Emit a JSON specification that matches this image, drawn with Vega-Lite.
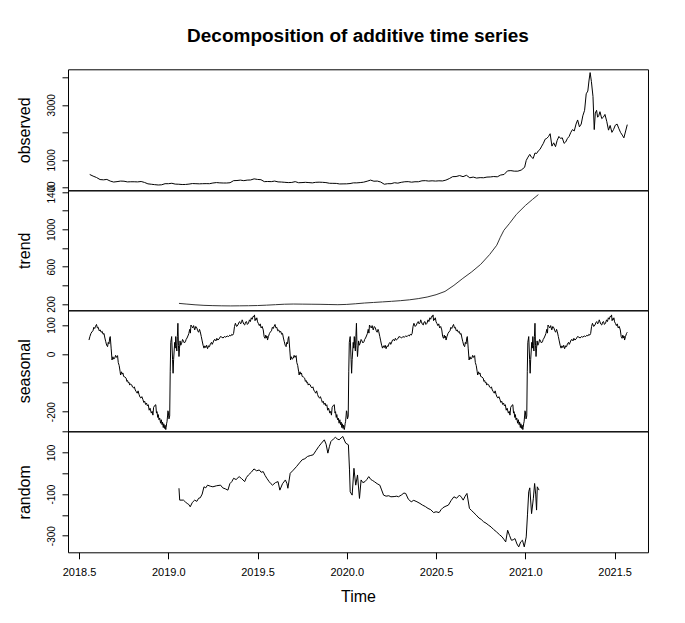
{
"$schema": "https://vega.github.io/schema/vega-lite/v6.json",
"background": "white",
"padding": {"left": 16, "top": 25.3, "right": 5, "bottom": 5},
"bounds": "flush",
"config": {
  "font": "Liberation Sans",
  "view": {"stroke": "black", "strokeWidth": 1},
  "axis": {"grid": false, "domain": false, "tickColor": "black", "tickWidth": 1, "labelColor": "black", "titleColor": "black", "labelFont": "Liberation Sans", "titleFont": "Liberation Sans", "titleFontWeight": "normal", "labelFlush": false, "labelOverlap": false, "labelBound": false},
  "axisY": {"labelAngle": 270, "labelAlign": "center", "labelBaseline": "alphabetic", "labelPadding": 7.4, "tickSize": 6, "labelFontSize": 10, "titleAngle": 270, "titleAlign": "center", "titleBaseline": "alphabetic", "titleX": -38.4, "titleFontSize": 16},
  "concat": {"spacing": 0}
},
"spacing": 0,
"resolve": {"scale": {"x": "independent", "y": "independent"}},
"datasets": {
  "obs": [
{"t":2018.560,"v":470},{"t":2018.579,"v":410},{"t":2018.598,"v":360},{"t":2018.618,"v":285},{"t":2018.637,"v":275},{"t":2018.656,"v":290},{"t":2018.675,"v":230},{"t":2018.694,"v":195},{"t":2018.713,"v":210},{"t":2018.733,"v":230},{"t":2018.752,"v":225},{"t":2018.771,"v":200},{"t":2018.790,"v":205},{"t":2018.809,"v":205},{"t":2018.828,"v":200},{"t":2018.848,"v":215},{"t":2018.867,"v":180},{"t":2018.886,"v":130},{"t":2018.905,"v":115},{"t":2018.924,"v":100},{"t":2018.944,"v":88},{"t":2018.963,"v":95},{"t":2018.982,"v":135},{"t":2019.001,"v":135},{"t":2019.020,"v":150},{"t":2019.039,"v":120},{"t":2019.059,"v":115},{"t":2019.078,"v":105},{"t":2019.097,"v":107},{"t":2019.116,"v":120},{"t":2019.135,"v":140},{"t":2019.155,"v":135},{"t":2019.174,"v":130},{"t":2019.193,"v":135},{"t":2019.212,"v":137},{"t":2019.231,"v":135},{"t":2019.250,"v":160},{"t":2019.270,"v":175},{"t":2019.289,"v":165},{"t":2019.308,"v":160},{"t":2019.327,"v":160},{"t":2019.346,"v":170},{"t":2019.366,"v":245},{"t":2019.385,"v":250},{"t":2019.404,"v":265},{"t":2019.423,"v":245},{"t":2019.442,"v":265},{"t":2019.461,"v":270},{"t":2019.481,"v":310},{"t":2019.500,"v":290},{"t":2019.519,"v":280},{"t":2019.538,"v":210},{"t":2019.557,"v":215},{"t":2019.577,"v":210},{"t":2019.596,"v":230},{"t":2019.615,"v":200},{"t":2019.634,"v":195},{"t":2019.653,"v":185},{"t":2019.672,"v":175},{"t":2019.692,"v":180},{"t":2019.711,"v":210},{"t":2019.730,"v":170},{"t":2019.749,"v":175},{"t":2019.768,"v":185},{"t":2019.788,"v":175},{"t":2019.807,"v":165},{"t":2019.826,"v":185},{"t":2019.845,"v":190},{"t":2019.864,"v":185},{"t":2019.883,"v":175},{"t":2019.903,"v":150},{"t":2019.922,"v":148},{"t":2019.941,"v":145},{"t":2019.960,"v":125},{"t":2019.979,"v":128},{"t":2019.999,"v":130},{"t":2020.018,"v":140},{"t":2020.037,"v":165},{"t":2020.056,"v":165},{"t":2020.075,"v":175},{"t":2020.094,"v":190},{"t":2020.114,"v":225},{"t":2020.133,"v":265},{"t":2020.152,"v":225},{"t":2020.171,"v":230},{"t":2020.190,"v":195},{"t":2020.210,"v":115},{"t":2020.229,"v":135},{"t":2020.248,"v":135},{"t":2020.267,"v":170},{"t":2020.286,"v":155},{"t":2020.305,"v":185},{"t":2020.325,"v":205},{"t":2020.344,"v":210},{"t":2020.363,"v":190},{"t":2020.382,"v":205},{"t":2020.401,"v":205},{"t":2020.421,"v":240},{"t":2020.440,"v":245},{"t":2020.459,"v":230},{"t":2020.478,"v":240},{"t":2020.497,"v":230},{"t":2020.516,"v":240},{"t":2020.536,"v":235},{"t":2020.555,"v":265},{"t":2020.574,"v":320},{"t":2020.593,"v":390},{"t":2020.612,"v":395},{"t":2020.632,"v":430},{"t":2020.651,"v":390},{"t":2020.670,"v":440},{"t":2020.689,"v":350},{"t":2020.708,"v":375},{"t":2020.727,"v":340},{"t":2020.747,"v":355},{"t":2020.766,"v":350},{"t":2020.785,"v":375},{"t":2020.804,"v":380},{"t":2020.823,"v":395},{"t":2020.843,"v":385},{"t":2020.862,"v":450},{"t":2020.881,"v":470},{"t":2020.900,"v":600},{"t":2020.919,"v":610},{"t":2020.938,"v":590},{"t":2020.958,"v":590},{"t":2020.977,"v":630},{"t":2020.996,"v":730},
{"t":2021.005,"v":980},{"t":2021.015,"v":1100},{"t":2021.025,"v":1200},{"t":2021.034,"v":1100},{"t":2021.044,"v":1050},{"t":2021.054,"v":1250},{"t":2021.063,"v":1230},{"t":2021.073,"v":1330},{"t":2021.082,"v":1380},{"t":2021.092,"v":1500},{"t":2021.101,"v":1600},{"t":2021.111,"v":1750},{"t":2021.120,"v":1780},{"t":2021.130,"v":1850},{"t":2021.139,"v":1950},{"t":2021.149,"v":1500},{"t":2021.159,"v":1620},{"t":2021.169,"v":1480},{"t":2021.178,"v":1700},{"t":2021.188,"v":1850},{"t":2021.197,"v":1780},{"t":2021.207,"v":1800},{"t":2021.217,"v":1600},{"t":2021.226,"v":1650},{"t":2021.236,"v":1780},{"t":2021.245,"v":1850},{"t":2021.255,"v":2000},{"t":2021.264,"v":2100},{"t":2021.274,"v":2050},{"t":2021.284,"v":2300},{"t":2021.293,"v":2450},{"t":2021.303,"v":2200},{"t":2021.313,"v":2300},{"t":2021.322,"v":2600},{"t":2021.332,"v":2800},{"t":2021.341,"v":3400},{"t":2021.350,"v":3500},{"t":2021.357,"v":3900},{"t":2021.363,"v":4170},{"t":2021.370,"v":3850},{"t":2021.379,"v":3300},{"t":2021.386,"v":2100},{"t":2021.392,"v":2700},{"t":2021.399,"v":2800},{"t":2021.405,"v":2550},{"t":2021.411,"v":2600},{"t":2021.418,"v":2750},{"t":2021.428,"v":2500},{"t":2021.437,"v":2550},{"t":2021.446,"v":2650},{"t":2021.456,"v":2400},{"t":2021.466,"v":2080},{"t":2021.475,"v":2250},{"t":2021.485,"v":2000},{"t":2021.494,"v":2100},{"t":2021.504,"v":2260},{"t":2021.514,"v":2300},{"t":2021.523,"v":2150},{"t":2021.533,"v":2000},{"t":2021.543,"v":1900},{"t":2021.552,"v":1800},{"t":2021.562,"v":2050},{"t":2021.571,"v":2280}
  ],
  "trend": [
{"t":2019.060,"v":207},{"t":2019.100,"v":200},{"t":2019.150,"v":192},{"t":2019.200,"v":186},{"t":2019.250,"v":183},{"t":2019.300,"v":181},{"t":2019.350,"v":180},{"t":2019.400,"v":181},{"t":2019.450,"v":182},{"t":2019.500,"v":184},{"t":2019.550,"v":188},{"t":2019.600,"v":193},{"t":2019.650,"v":198},{"t":2019.700,"v":200},{"t":2019.750,"v":199},{"t":2019.800,"v":198},{"t":2019.850,"v":197},{"t":2019.900,"v":195},{"t":2019.950,"v":193},{"t":2020.000,"v":196},{"t":2020.050,"v":203},{"t":2020.100,"v":211},{"t":2020.150,"v":217},{"t":2020.200,"v":223},{"t":2020.250,"v":229},{"t":2020.300,"v":236},{"t":2020.350,"v":245},{"t":2020.400,"v":258},{"t":2020.450,"v":275},{"t":2020.500,"v":300},{"t":2020.550,"v":335},{"t":2020.600,"v":400},{"t":2020.650,"v":475},{"t":2020.700,"v":545},{"t":2020.750,"v":625},{"t":2020.800,"v":730},{"t":2020.840,"v":830},{"t":2020.860,"v":915},{"t":2020.880,"v":990},{"t":2020.910,"v":1060},{"t":2020.950,"v":1160},{"t":2021.000,"v":1255},{"t":2021.040,"v":1320},{"t":2021.073,"v":1372}
  ],
  "seas": [
{"t":2018.556,"v":48},{"t":2018.561,"v":60},{"t":2018.567,"v":71},{"t":2018.572,"v":76},{"t":2018.578,"v":80},{"t":2018.583,"v":92},{"t":2018.588,"v":88},{"t":2018.593,"v":96},{"t":2018.598,"v":102},{"t":2018.603,"v":90},{"t":2018.608,"v":92},{"t":2018.613,"v":80},{"t":2018.619,"v":83},{"t":2018.624,"v":75},{"t":2018.630,"v":78},{"t":2018.635,"v":68},{"t":2018.640,"v":71},{"t":2018.645,"v":55},{"t":2018.650,"v":42},{"t":2018.655,"v":30},{"t":2018.660,"v":25},{"t":2018.664,"v":40},{"t":2018.668,"v":35},{"t":2018.672,"v":55},{"t":2018.675,"v":60},{"t":2018.680,"v":20},{"t":2018.685,"v":-21},{"t":2018.690,"v":-10},{"t":2018.695,"v":-18},{"t":2018.700,"v":-15},{"t":2018.705,"v":-5},{"t":2018.710,"v":-12},{"t":2018.716,"v":-6},{"t":2018.720,"v":-30},{"t":2018.725,"v":-40},{"t":2018.730,"v":-60},{"t":2018.733,"v":-73},{"t":2018.738,"v":-62},{"t":2018.742,"v":-70},{"t":2018.746,"v":-66},{"t":2018.750,"v":-78},{"t":2018.757,"v":-80},{"t":2018.764,"v":-84},{"t":2018.768,"v":-95},{"t":2018.772,"v":-92},{"t":2018.776,"v":-100},{"t":2018.780,"v":-98},{"t":2018.784,"v":-108},{"t":2018.788,"v":-104},{"t":2018.795,"v":-107},{"t":2018.800,"v":-115},{"t":2018.805,"v":-118},{"t":2018.810,"v":-114},{"t":2018.815,"v":-125},{"t":2018.820,"v":-130},{"t":2018.826,"v":-136},{"t":2018.831,"v":-128},{"t":2018.836,"v":-140},{"t":2018.842,"v":-150},{"t":2018.847,"v":-153},{"t":2018.852,"v":-148},{"t":2018.858,"v":-158},{"t":2018.863,"v":-168},{"t":2018.868,"v":-164},{"t":2018.873,"v":-175},{"t":2018.878,"v":-170},{"t":2018.883,"v":-180},{"t":2018.888,"v":-176},{"t":2018.893,"v":-195},{"t":2018.898,"v":-188},{"t":2018.905,"v":-205},{"t":2018.910,"v":-199},{"t":2018.914,"v":-212},{"t":2018.918,"v":-185},{"t":2018.925,"v":-178},{"t":2018.930,"v":-176},{"t":2018.934,"v":-205},{"t":2018.937,"v":-200},{"t":2018.941,"v":-220},{"t":2018.944,"v":-210},{"t":2018.948,"v":-228},{"t":2018.952,"v":-222},{"t":2018.957,"v":-240},{"t":2018.961,"v":-228},{"t":2018.965,"v":-245},{"t":2018.968,"v":-236},{"t":2018.972,"v":-255},{"t":2018.975,"v":-242},{"t":2018.979,"v":-258},{"t":2018.982,"v":-247},{"t":2018.986,"v":-262},{"t":2018.988,"v":-255},{"t":2018.991,"v":-240},{"t":2018.993,"v":-235},{"t":2018.996,"v":-215},{"t":2018.998,"v":-197},
{"t":2019.000,"v":-200},{"t":2019.004,"v":-225},{"t":2019.008,"v":-215},{"t":2019.011,"v":-60},{"t":2019.014,"v":40},{"t":2019.019,"v":60},{"t":2019.024,"v":-20},{"t":2019.027,"v":-67},{"t":2019.030,"v":-20},{"t":2019.036,"v":40},{"t":2019.039,"v":20},{"t":2019.042,"v":60},{"t":2019.045,"v":30},{"t":2019.048,"v":10},{"t":2019.051,"v":60},{"t":2019.054,"v":106},{"t":2019.057,"v":30},{"t":2019.060,"v":-9},{"t":2019.063,"v":20},{"t":2019.066,"v":45},{"t":2019.070,"v":30},{"t":2019.075,"v":37},{"t":2019.080,"v":50},{"t":2019.085,"v":45},{"t":2019.090,"v":38},{"t":2019.096,"v":42},{"t":2019.100,"v":50},{"t":2019.105,"v":55},{"t":2019.110,"v":62},{"t":2019.115,"v":70},{"t":2019.120,"v":85},{"t":2019.124,"v":72},{"t":2019.127,"v":100},{"t":2019.132,"v":95},{"t":2019.137,"v":90},{"t":2019.142,"v":98},{"t":2019.148,"v":83},{"t":2019.154,"v":95},{"t":2019.160,"v":90},{"t":2019.165,"v":80},{"t":2019.170,"v":75},{"t":2019.175,"v":85},{"t":2019.179,"v":77},{"t":2019.185,"v":60},{"t":2019.190,"v":45},{"t":2019.195,"v":30},{"t":2019.200,"v":20},{"t":2019.205,"v":28},{"t":2019.210,"v":22},{"t":2019.215,"v":30},{"t":2019.220,"v":18},{"t":2019.226,"v":28},{"t":2019.231,"v":25},{"t":2019.236,"v":35},{"t":2019.242,"v":40},{"t":2019.246,"v":33},{"t":2019.250,"v":38},{"t":2019.256,"v":48},{"t":2019.262,"v":50},{"t":2019.267,"v":45},{"t":2019.272,"v":54},{"t":2019.278,"v":48},{"t":2019.285,"v":52},{"t":2019.292,"v":60},{"t":2019.300,"v":58},{"t":2019.307,"v":55},{"t":2019.314,"v":60},{"t":2019.322,"v":58},{"t":2019.330,"v":62},{"t":2019.338,"v":60},{"t":2019.345,"v":65},{"t":2019.350,"v":62},{"t":2019.356,"v":68},{"t":2019.361,"v":65},{"t":2019.366,"v":71},{"t":2019.371,"v":95},{"t":2019.376,"v":106},{"t":2019.383,"v":95},{"t":2019.390,"v":100},{"t":2019.395,"v":108},{"t":2019.400,"v":112},{"t":2019.405,"v":104},{"t":2019.410,"v":108},{"t":2019.414,"v":118},{"t":2019.418,"v":111},{"t":2019.423,"v":103},{"t":2019.428,"v":100},{"t":2019.433,"v":110},{"t":2019.438,"v":112},{"t":2019.443,"v":102},{"t":2019.449,"v":106},{"t":2019.455,"v":118},{"t":2019.460,"v":112},{"t":2019.465,"v":125},{"t":2019.470,"v":120},{"t":2019.475,"v":130},{"t":2019.480,"v":129},{"t":2019.483,"v":135},{"t":2019.486,"v":115},{"t":2019.489,"v":122},{"t":2019.492,"v":118},{"t":2019.496,"v":125},{"t":2019.500,"v":111},{"t":2019.505,"v":105},{"t":2019.510,"v":98},{"t":2019.515,"v":104},{"t":2019.520,"v":90},{"t":2019.526,"v":95},{"t":2019.532,"v":83},{"t":2019.537,"v":60},{"t":2019.542,"v":54},{"t":2019.546,"v":65},{"t":2019.550,"v":55},{"t":2019.553,"v":62},
{"t":2019.556,"v":48},{"t":2019.561,"v":60},{"t":2019.567,"v":71},{"t":2019.572,"v":76},{"t":2019.578,"v":80},{"t":2019.583,"v":92},{"t":2019.588,"v":88},{"t":2019.593,"v":96},{"t":2019.598,"v":102},{"t":2019.603,"v":90},{"t":2019.608,"v":92},{"t":2019.613,"v":80},{"t":2019.619,"v":83},{"t":2019.624,"v":75},{"t":2019.630,"v":78},{"t":2019.635,"v":68},{"t":2019.640,"v":71},{"t":2019.645,"v":55},{"t":2019.650,"v":42},{"t":2019.655,"v":30},{"t":2019.660,"v":25},{"t":2019.664,"v":40},{"t":2019.668,"v":35},{"t":2019.672,"v":55},{"t":2019.675,"v":60},{"t":2019.680,"v":20},{"t":2019.685,"v":-21},{"t":2019.690,"v":-10},{"t":2019.695,"v":-18},{"t":2019.700,"v":-15},{"t":2019.705,"v":-5},{"t":2019.710,"v":-12},{"t":2019.716,"v":-6},{"t":2019.720,"v":-30},{"t":2019.725,"v":-40},{"t":2019.730,"v":-60},{"t":2019.733,"v":-73},{"t":2019.738,"v":-62},{"t":2019.742,"v":-70},{"t":2019.746,"v":-66},{"t":2019.750,"v":-78},{"t":2019.757,"v":-80},{"t":2019.764,"v":-84},{"t":2019.768,"v":-95},{"t":2019.772,"v":-92},{"t":2019.776,"v":-100},{"t":2019.780,"v":-98},{"t":2019.784,"v":-108},{"t":2019.788,"v":-104},{"t":2019.795,"v":-107},{"t":2019.800,"v":-115},{"t":2019.805,"v":-118},{"t":2019.810,"v":-114},{"t":2019.815,"v":-125},{"t":2019.820,"v":-130},{"t":2019.826,"v":-136},{"t":2019.831,"v":-128},{"t":2019.836,"v":-140},{"t":2019.842,"v":-150},{"t":2019.847,"v":-153},{"t":2019.852,"v":-148},{"t":2019.858,"v":-158},{"t":2019.863,"v":-168},{"t":2019.868,"v":-164},{"t":2019.873,"v":-175},{"t":2019.878,"v":-170},{"t":2019.883,"v":-180},{"t":2019.888,"v":-176},{"t":2019.893,"v":-195},{"t":2019.898,"v":-188},{"t":2019.905,"v":-205},{"t":2019.910,"v":-199},{"t":2019.914,"v":-212},{"t":2019.918,"v":-185},{"t":2019.925,"v":-178},{"t":2019.930,"v":-176},{"t":2019.934,"v":-205},{"t":2019.937,"v":-200},{"t":2019.941,"v":-220},{"t":2019.944,"v":-210},{"t":2019.948,"v":-228},{"t":2019.952,"v":-222},{"t":2019.957,"v":-240},{"t":2019.961,"v":-228},{"t":2019.965,"v":-245},{"t":2019.968,"v":-236},{"t":2019.972,"v":-255},{"t":2019.975,"v":-242},{"t":2019.979,"v":-258},{"t":2019.982,"v":-247},{"t":2019.986,"v":-262},{"t":2019.988,"v":-255},{"t":2019.991,"v":-240},{"t":2019.993,"v":-235},{"t":2019.996,"v":-215},{"t":2019.998,"v":-197},
{"t":2020.000,"v":-200},{"t":2020.004,"v":-225},{"t":2020.008,"v":-215},{"t":2020.011,"v":-60},{"t":2020.014,"v":40},{"t":2020.019,"v":60},{"t":2020.024,"v":-20},{"t":2020.027,"v":-67},{"t":2020.030,"v":-20},{"t":2020.036,"v":40},{"t":2020.039,"v":20},{"t":2020.042,"v":60},{"t":2020.045,"v":30},{"t":2020.048,"v":10},{"t":2020.051,"v":60},{"t":2020.054,"v":106},{"t":2020.057,"v":30},{"t":2020.060,"v":-9},{"t":2020.063,"v":20},{"t":2020.066,"v":45},{"t":2020.070,"v":30},{"t":2020.075,"v":37},{"t":2020.080,"v":50},{"t":2020.085,"v":45},{"t":2020.090,"v":38},{"t":2020.096,"v":42},{"t":2020.100,"v":50},{"t":2020.105,"v":55},{"t":2020.110,"v":62},{"t":2020.115,"v":70},{"t":2020.120,"v":85},{"t":2020.124,"v":72},{"t":2020.127,"v":100},{"t":2020.132,"v":95},{"t":2020.137,"v":90},{"t":2020.142,"v":98},{"t":2020.148,"v":83},{"t":2020.154,"v":95},{"t":2020.160,"v":90},{"t":2020.165,"v":80},{"t":2020.170,"v":75},{"t":2020.175,"v":85},{"t":2020.179,"v":77},{"t":2020.185,"v":60},{"t":2020.190,"v":45},{"t":2020.195,"v":30},{"t":2020.200,"v":20},{"t":2020.205,"v":28},{"t":2020.210,"v":22},{"t":2020.215,"v":30},{"t":2020.220,"v":18},{"t":2020.226,"v":28},{"t":2020.231,"v":25},{"t":2020.236,"v":35},{"t":2020.242,"v":40},{"t":2020.246,"v":33},{"t":2020.250,"v":38},{"t":2020.256,"v":48},{"t":2020.262,"v":50},{"t":2020.267,"v":45},{"t":2020.272,"v":54},{"t":2020.278,"v":48},{"t":2020.285,"v":52},{"t":2020.292,"v":60},{"t":2020.300,"v":58},{"t":2020.307,"v":55},{"t":2020.314,"v":60},{"t":2020.322,"v":58},{"t":2020.330,"v":62},{"t":2020.338,"v":60},{"t":2020.345,"v":65},{"t":2020.350,"v":62},{"t":2020.356,"v":68},{"t":2020.361,"v":65},{"t":2020.366,"v":71},{"t":2020.371,"v":95},{"t":2020.376,"v":106},{"t":2020.383,"v":95},{"t":2020.390,"v":100},{"t":2020.395,"v":108},{"t":2020.400,"v":112},{"t":2020.405,"v":104},{"t":2020.410,"v":108},{"t":2020.414,"v":118},{"t":2020.418,"v":111},{"t":2020.423,"v":103},{"t":2020.428,"v":100},{"t":2020.433,"v":110},{"t":2020.438,"v":112},{"t":2020.443,"v":102},{"t":2020.449,"v":106},{"t":2020.455,"v":118},{"t":2020.460,"v":112},{"t":2020.465,"v":125},{"t":2020.470,"v":120},{"t":2020.475,"v":130},{"t":2020.480,"v":129},{"t":2020.483,"v":135},{"t":2020.486,"v":115},{"t":2020.489,"v":122},{"t":2020.492,"v":118},{"t":2020.496,"v":125},{"t":2020.500,"v":111},{"t":2020.505,"v":105},{"t":2020.510,"v":98},{"t":2020.515,"v":104},{"t":2020.520,"v":90},{"t":2020.526,"v":95},{"t":2020.532,"v":83},{"t":2020.537,"v":60},{"t":2020.542,"v":54},{"t":2020.546,"v":65},{"t":2020.550,"v":55},{"t":2020.553,"v":62},
{"t":2020.556,"v":48},{"t":2020.561,"v":60},{"t":2020.567,"v":71},{"t":2020.572,"v":76},{"t":2020.578,"v":80},{"t":2020.583,"v":92},{"t":2020.588,"v":88},{"t":2020.593,"v":96},{"t":2020.598,"v":102},{"t":2020.603,"v":90},{"t":2020.608,"v":92},{"t":2020.613,"v":80},{"t":2020.619,"v":83},{"t":2020.624,"v":75},{"t":2020.630,"v":78},{"t":2020.635,"v":68},{"t":2020.640,"v":71},{"t":2020.645,"v":55},{"t":2020.650,"v":42},{"t":2020.655,"v":30},{"t":2020.660,"v":25},{"t":2020.664,"v":40},{"t":2020.668,"v":35},{"t":2020.672,"v":55},{"t":2020.675,"v":60},{"t":2020.680,"v":20},{"t":2020.685,"v":-21},{"t":2020.690,"v":-10},{"t":2020.695,"v":-18},{"t":2020.700,"v":-15},{"t":2020.705,"v":-5},{"t":2020.710,"v":-12},{"t":2020.716,"v":-6},{"t":2020.720,"v":-30},{"t":2020.725,"v":-40},{"t":2020.730,"v":-60},{"t":2020.733,"v":-73},{"t":2020.738,"v":-62},{"t":2020.742,"v":-70},{"t":2020.746,"v":-66},{"t":2020.750,"v":-78},{"t":2020.757,"v":-80},{"t":2020.764,"v":-84},{"t":2020.768,"v":-95},{"t":2020.772,"v":-92},{"t":2020.776,"v":-100},{"t":2020.780,"v":-98},{"t":2020.784,"v":-108},{"t":2020.788,"v":-104},{"t":2020.795,"v":-107},{"t":2020.800,"v":-115},{"t":2020.805,"v":-118},{"t":2020.810,"v":-114},{"t":2020.815,"v":-125},{"t":2020.820,"v":-130},{"t":2020.826,"v":-136},{"t":2020.831,"v":-128},{"t":2020.836,"v":-140},{"t":2020.842,"v":-150},{"t":2020.847,"v":-153},{"t":2020.852,"v":-148},{"t":2020.858,"v":-158},{"t":2020.863,"v":-168},{"t":2020.868,"v":-164},{"t":2020.873,"v":-175},{"t":2020.878,"v":-170},{"t":2020.883,"v":-180},{"t":2020.888,"v":-176},{"t":2020.893,"v":-195},{"t":2020.898,"v":-188},{"t":2020.905,"v":-205},{"t":2020.910,"v":-199},{"t":2020.914,"v":-212},{"t":2020.918,"v":-185},{"t":2020.925,"v":-178},{"t":2020.930,"v":-176},{"t":2020.934,"v":-205},{"t":2020.937,"v":-200},{"t":2020.941,"v":-220},{"t":2020.944,"v":-210},{"t":2020.948,"v":-228},{"t":2020.952,"v":-222},{"t":2020.957,"v":-240},{"t":2020.961,"v":-228},{"t":2020.965,"v":-245},{"t":2020.968,"v":-236},{"t":2020.972,"v":-255},{"t":2020.975,"v":-242},{"t":2020.979,"v":-258},{"t":2020.982,"v":-247},{"t":2020.986,"v":-262},{"t":2020.988,"v":-255},{"t":2020.991,"v":-240},{"t":2020.993,"v":-235},{"t":2020.996,"v":-215},{"t":2020.998,"v":-197},
{"t":2021.000,"v":-200},{"t":2021.004,"v":-225},{"t":2021.008,"v":-215},{"t":2021.011,"v":-60},{"t":2021.014,"v":40},{"t":2021.019,"v":60},{"t":2021.024,"v":-20},{"t":2021.027,"v":-67},{"t":2021.030,"v":-20},{"t":2021.036,"v":40},{"t":2021.039,"v":20},{"t":2021.042,"v":60},{"t":2021.045,"v":30},{"t":2021.048,"v":10},{"t":2021.051,"v":60},{"t":2021.054,"v":106},{"t":2021.057,"v":30},{"t":2021.060,"v":-9},{"t":2021.063,"v":20},{"t":2021.066,"v":45},{"t":2021.070,"v":30},{"t":2021.075,"v":37},{"t":2021.080,"v":50},{"t":2021.085,"v":45},{"t":2021.090,"v":38},{"t":2021.096,"v":42},{"t":2021.100,"v":50},{"t":2021.105,"v":55},{"t":2021.110,"v":62},{"t":2021.115,"v":70},{"t":2021.120,"v":85},{"t":2021.124,"v":72},{"t":2021.127,"v":100},{"t":2021.132,"v":95},{"t":2021.137,"v":90},{"t":2021.142,"v":98},{"t":2021.148,"v":83},{"t":2021.154,"v":95},{"t":2021.160,"v":90},{"t":2021.165,"v":80},{"t":2021.170,"v":75},{"t":2021.175,"v":85},{"t":2021.179,"v":77},{"t":2021.185,"v":60},{"t":2021.190,"v":45},{"t":2021.195,"v":30},{"t":2021.200,"v":20},{"t":2021.205,"v":28},{"t":2021.210,"v":22},{"t":2021.215,"v":30},{"t":2021.220,"v":18},{"t":2021.226,"v":28},{"t":2021.231,"v":25},{"t":2021.236,"v":35},{"t":2021.242,"v":40},{"t":2021.246,"v":33},{"t":2021.250,"v":38},{"t":2021.256,"v":48},{"t":2021.262,"v":50},{"t":2021.267,"v":45},{"t":2021.272,"v":54},{"t":2021.278,"v":48},{"t":2021.285,"v":52},{"t":2021.292,"v":60},{"t":2021.300,"v":58},{"t":2021.307,"v":55},{"t":2021.314,"v":60},{"t":2021.322,"v":58},{"t":2021.330,"v":62},{"t":2021.338,"v":60},{"t":2021.345,"v":65},{"t":2021.350,"v":62},{"t":2021.356,"v":68},{"t":2021.361,"v":65},{"t":2021.366,"v":71},{"t":2021.371,"v":95},{"t":2021.376,"v":106},{"t":2021.383,"v":95},{"t":2021.390,"v":100},{"t":2021.395,"v":108},{"t":2021.400,"v":112},{"t":2021.405,"v":104},{"t":2021.410,"v":108},{"t":2021.414,"v":118},{"t":2021.418,"v":111},{"t":2021.423,"v":103},{"t":2021.428,"v":100},{"t":2021.433,"v":110},{"t":2021.438,"v":112},{"t":2021.443,"v":102},{"t":2021.449,"v":106},{"t":2021.455,"v":118},{"t":2021.460,"v":112},{"t":2021.465,"v":125},{"t":2021.470,"v":120},{"t":2021.475,"v":130},{"t":2021.480,"v":129},{"t":2021.483,"v":135},{"t":2021.486,"v":115},{"t":2021.489,"v":122},{"t":2021.492,"v":118},{"t":2021.496,"v":125},{"t":2021.500,"v":111},{"t":2021.505,"v":105},{"t":2021.510,"v":98},{"t":2021.515,"v":104},{"t":2021.520,"v":90},{"t":2021.526,"v":95},{"t":2021.532,"v":83},{"t":2021.537,"v":60},{"t":2021.542,"v":54},{"t":2021.546,"v":65},{"t":2021.550,"v":55},{"t":2021.553,"v":62},{"t":2021.556,"v":48},{"t":2021.561,"v":60},{"t":2021.567,"v":71},{"t":2021.571,"v":75}
  ],
  "rand": [
{"t":2019.060,"v":-72},{"t":2019.064,"v":-129},{"t":2019.085,"v":-129},{"t":2019.096,"v":-138},{"t":2019.106,"v":-145},{"t":2019.115,"v":-150},{"t":2019.123,"v":-161},{"t":2019.135,"v":-140},{"t":2019.148,"v":-129},{"t":2019.160,"v":-135},{"t":2019.170,"v":-120},{"t":2019.179,"v":-118},{"t":2019.190,"v":-100},{"t":2019.200,"v":-65},{"t":2019.210,"v":-70},{"t":2019.220,"v":-57},{"t":2019.235,"v":-62},{"t":2019.250,"v":-65},{"t":2019.270,"v":-60},{"t":2019.293,"v":-57},{"t":2019.305,"v":-70},{"t":2019.320,"v":-75},{"t":2019.334,"v":-81},{"t":2019.345,"v":-50},{"t":2019.356,"v":-40},{"t":2019.366,"v":-24},{"t":2019.380,"v":-30},{"t":2019.397,"v":-16},{"t":2019.410,"v":-25},{"t":2019.428,"v":-40},{"t":2019.438,"v":-20},{"t":2019.449,"v":-8},{"t":2019.465,"v":5},{"t":2019.480,"v":21},{"t":2019.495,"v":12},{"t":2019.510,"v":16},{"t":2019.520,"v":5},{"t":2019.532,"v":8},{"t":2019.542,"v":-10},{"t":2019.552,"v":-24},{"t":2019.565,"v":-40},{"t":2019.575,"v":-50},{"t":2019.584,"v":-57},{"t":2019.600,"v":-45},{"t":2019.615,"v":-40},{"t":2019.625,"v":-81},{"t":2019.640,"v":-50},{"t":2019.656,"v":-32},{"t":2019.665,"v":-50},{"t":2019.670,"v":-72},{"t":2019.683,"v":0},{"t":2019.700,"v":15},{"t":2019.718,"v":32},{"t":2019.735,"v":50},{"t":2019.750,"v":65},{"t":2019.765,"v":70},{"t":2019.780,"v":81},{"t":2019.795,"v":85},{"t":2019.812,"v":89},{"t":2019.828,"v":110},{"t":2019.843,"v":129},{"t":2019.858,"v":145},{"t":2019.874,"v":161},{"t":2019.884,"v":140},{"t":2019.894,"v":97},{"t":2019.903,"v":130},{"t":2019.911,"v":153},{"t":2019.925,"v":165},{"t":2019.936,"v":173},{"t":2019.947,"v":165},{"t":2019.957,"v":161},{"t":2019.968,"v":170},{"t":2019.978,"v":177},{"t":2019.986,"v":160},{"t":2019.994,"v":145},{"t":2020.009,"v":137},{"t":2020.015,"v":20},{"t":2020.019,"v":-89},{"t":2020.030,"v":-105},{"t":2020.040,"v":24},{"t":2020.050,"v":-57},{"t":2020.060,"v":-8},{"t":2020.071,"v":-121},{"t":2020.080,"v":-32},{"t":2020.090,"v":-45},{"t":2020.102,"v":-40},{"t":2020.112,"v":-30},{"t":2020.123,"v":-16},{"t":2020.135,"v":-30},{"t":2020.145,"v":-35},{"t":2020.154,"v":-40},{"t":2020.170,"v":-50},{"t":2020.185,"v":-57},{"t":2020.195,"v":-80},{"t":2020.206,"v":-105},{"t":2020.220,"v":-110},{"t":2020.235,"v":-108},{"t":2020.247,"v":-113},{"t":2020.265,"v":-112},{"t":2020.280,"v":-110},{"t":2020.289,"v":-113},{"t":2020.305,"v":-105},{"t":2020.320,"v":-95},{"t":2020.330,"v":-97},{"t":2020.345,"v":-125},{"t":2020.361,"v":-137},{"t":2020.375,"v":-130},{"t":2020.393,"v":-137},{"t":2020.410,"v":-145},{"t":2020.424,"v":-153},{"t":2020.440,"v":-160},{"t":2020.455,"v":-169},{"t":2020.470,"v":-175},{"t":2020.486,"v":-189},{"t":2020.500,"v":-185},{"t":2020.517,"v":-189},{"t":2020.528,"v":-175},{"t":2020.538,"v":-166},{"t":2020.550,"v":-160},{"t":2020.569,"v":-153},{"t":2020.585,"v":-130},{"t":2020.600,"v":-113},{"t":2020.615,"v":-120},{"t":2020.631,"v":-105},{"t":2020.642,"v":-115},{"t":2020.652,"v":-129},{"t":2020.663,"v":-110},{"t":2020.673,"v":-97},{"t":2020.687,"v":-169},{"t":2020.700,"v":-180},{"t":2020.712,"v":-190},{"t":2020.725,"v":-201},{"t":2020.740,"v":-215},{"t":2020.753,"v":-222},{"t":2020.766,"v":-233},{"t":2020.780,"v":-240},{"t":2020.795,"v":-250},{"t":2020.808,"v":-258},{"t":2020.822,"v":-270},{"t":2020.839,"v":-282},{"t":2020.855,"v":-295},{"t":2020.870,"v":-306},{"t":2020.882,"v":-320},{"t":2020.890,"v":-330},{"t":2020.901,"v":-274},{"t":2020.912,"v":-300},{"t":2020.922,"v":-322},{"t":2020.932,"v":-320},{"t":2020.942,"v":-314},{"t":2020.953,"v":-340},{"t":2020.963,"v":-354},{"t":2020.974,"v":-330},{"t":2020.984,"v":-322},{"t":2020.994,"v":-354},{"t":2021.005,"v":-306},{"t":2021.012,"v":-200},{"t":2021.019,"v":-89},{"t":2021.025,"v":-70},{"t":2021.035,"v":-194},{"t":2021.045,"v":-120},{"t":2021.052,"v":-49},{"t":2021.058,"v":-100},{"t":2021.063,"v":-177},{"t":2021.067,"v":-65},{"t":2021.073,"v":-75},{"t":2021.077,"v":-81}
  ]
},
"vconcat": [
  {
    "title": {"text": "Decomposition of additive time series", "fontSize": 19, "fontWeight": "bold", "anchor": "middle", "frame": "group", "baseline": "alphabetic", "offset": 8.6, "font": "Liberation Sans", "color": "black"},
    "width": 580, "height": 121,
    "data": {"name": "obs"},
    "mark": {"type": "line", "color": "black", "strokeWidth": 1, "clip": true},
    "encoding": {
      "x": {"field": "t", "type": "quantitative", "scale": {"domain": [2018.4384, 2021.6871], "nice": false, "zero": false}, "axis": null},
      "y": {"field": "v", "type": "quantitative", "scale": {"domain": [-105, 4290], "nice": false, "zero": false},
            "axis": {"values": [0, 1000, 2000, 3000, 4000], "labelExpr": "datum.value == 2000 || datum.value == 4000 ? '' : toString(datum.value)", "title": "observed", "titleY": 60.5}}
    }
  },
  {
    "width": 580, "height": 120,
    "data": {"name": "trend"},
    "mark": {"type": "line", "color": "#333333", "strokeWidth": 1, "clip": true},
    "encoding": {
      "x": {"field": "t", "type": "quantitative", "scale": {"domain": [2018.4384, 2021.6871], "nice": false, "zero": false}, "axis": null},
      "y": {"field": "v", "type": "quantitative", "scale": {"domain": [133, 1418], "nice": false, "zero": false},
            "axis": {"values": [200, 400, 600, 800, 1000, 1200, 1400], "labelExpr": "datum.value == 400 || datum.value == 800 || datum.value == 1200 ? '' : toString(datum.value)", "title": "trend", "titleY": 60}}
    }
  },
  {
    "width": 580, "height": 121,
    "data": {"name": "seas"},
    "mark": {"type": "line", "color": "black", "strokeWidth": 1, "clip": true},
    "encoding": {
      "x": {"field": "t", "type": "quantitative", "scale": {"domain": [2018.4384, 2021.6871], "nice": false, "zero": false}, "axis": null},
      "y": {"field": "v", "type": "quantitative", "scale": {"domain": [-268, 151], "nice": false, "zero": false},
            "axis": {"values": [-200, -100, 0, 100], "labelExpr": "datum.value == -100 ? '' : toString(datum.value)", "title": "seasonal", "titleY": 60.5}}
    }
  },
  {
    "width": 580, "height": 121,
    "data": {"name": "rand"},
    "mark": {"type": "line", "color": "black", "strokeWidth": 1, "clip": true},
    "encoding": {
      "x": {"field": "t", "type": "quantitative", "scale": {"domain": [2018.4384, 2021.6871], "nice": false, "zero": false},
            "axis": {"orient": "bottom", "values": [2018.5, 2019.0, 2019.5, 2020.0, 2020.5, 2021.0, 2021.5], "format": ".1f", "labelFontSize": 11, "tickSize": 6.5, "labelPadding": 17, "labelBaseline": "alphabetic", "labelAngle": 0, "labelAlign": "center", "title": "Time", "titleFontSize": 16, "titleX": 290, "titleY": 49.3, "titleBaseline": "alphabetic", "titleAlign": "center"}},
      "y": {"field": "v", "type": "quantitative", "scale": {"domain": [-380, 202], "nice": false, "zero": false},
            "axis": {"values": [200, 100, 0, -100, -200, -300], "labelExpr": "datum.value == 100 || datum.value == -100 || datum.value == -300 ? toString(datum.value) : ''", "title": "random", "titleY": 60.5}}
    }
  }
]
}
